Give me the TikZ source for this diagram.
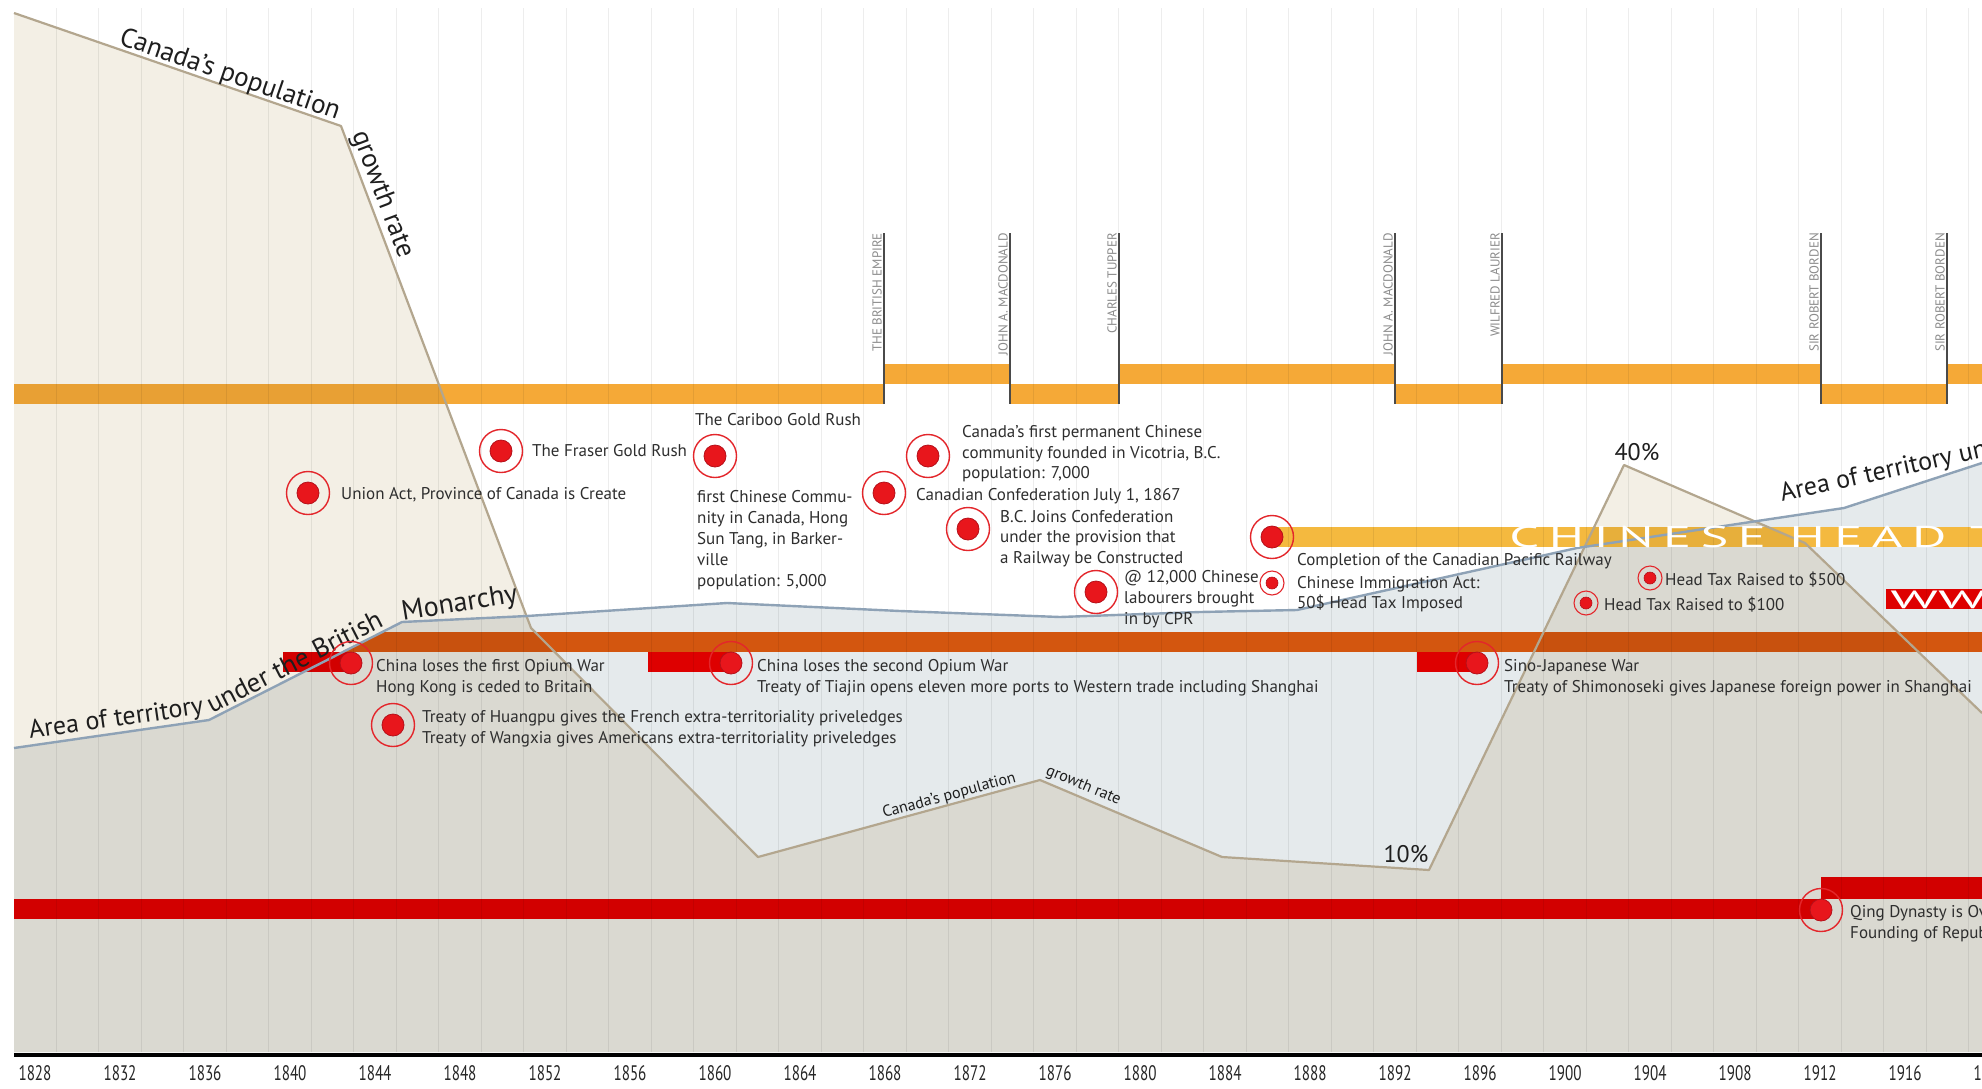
\documentclass[tikz,border=0pt]{standalone}
\usepackage{fontspec}
\setmainfont{PT Sans}
\definecolor{beige}{HTML}{F3EFE5}
\definecolor{terrblue}{HTML}{E5EAEC}
\definecolor{bggray}{HTML}{DAD9D1}
\definecolor{popline}{HTML}{B3A68E}
\definecolor{terrline}{HTML}{8EA2B6}
\definecolor{pmorange}{HTML}{F5A937}
\definecolor{taxgold}{HTML}{F4B93F}
\definecolor{brorange}{HTML}{D3560F}
\definecolor{barred}{HTML}{DE0000}
\definecolor{dotred}{HTML}{E8161C}
\definecolor{dotedge}{HTML}{B5101A}
\definecolor{ringred}{HTML}{E3262B}
\definecolor{evgray}{HTML}{2E2E2E}
\definecolor{pmgray}{HTML}{8C8C8C}
\definecolor{pmline}{HTML}{4A4A4A}
\definecolor{labblack}{HTML}{1E1E1E}
\newcommand\Tline{(14,748) -- (209,720) -- (402,622) -- (527,616) -- (727,603) -- (900,611) -- (1060,617) -- (1200,612) -- (1297,610) -- (1577,548) -- (1844,508) -- (1982,463)}
\newcommand\Pline{(14,13) -- (341,126) -- (531,628) -- (758,857) -- (1040,780) -- (1222,857) -- (1429,870) -- (1624,465) -- (1805,543) -- (1982,713)}
\newcommand\barshapes{%
  \fill[pmc] (14,384) rectangle (884,404);
  \fill[pmc] (884,364) rectangle (1010,384);
  \fill[pmc] (1010,384) rectangle (1119,404);
  \fill[pmc] (1119,364) rectangle (1395,384);
  \fill[pmc] (1395,384) rectangle (1502,404);
  \fill[pmc] (1502,364) rectangle (1821,384);
  \fill[pmc] (1821,384) rectangle (1947,404);
  \fill[pmc] (1947,364) rectangle (1982,384);
  \fill[htc] (1272,527) rectangle (1982,547);
  \fill[rdc] (1886,589) rectangle (1982,609);
  \begin{scope}
    \clip \Tline -- (1982,1052) -- (14,1052) -- cycle;
    \fill[obc] (300,632) rectangle (1982,652);
  \end{scope}
  \fill[rdc] (283,652) rectangle (352,672);
  \fill[rdc] (648,652) rectangle (731,672);
  \fill[rdc] (1417,652) rectangle (1477,672);
  \fill[rdc] (14,899) rectangle (1821,919);
  \fill[rdc] (1821,877) rectangle (1982,899);
}
\newcommand\bdot[3]{\node[ring] (#1r) at (#2,#3) {}; \node[dotc] (#1) at (#2,#3) {};}
\newcommand\sdotm[3]{\node[sring] (#1r) at (#2,#3) {}; \node[sdot] (#1) at (#2,#3) {};}
\begin{document}
\begin{tikzpicture}[x=1pt,y=-1pt,
  pmc/.style={fill=pmorange}, htc/.style={fill=taxgold}, obc/.style={fill=brorange}, rdc/.style={fill=barred},
  evtxt/.style={font=\fontsize{17}{20}\selectfont, text=evgray, inner sep=0pt, anchor=base west},
  pmtxt/.style={font=\fontsize{13}{15}\selectfont, text=pmgray, inner sep=0pt, rotate=90, anchor=south east},
  ring/.style={circle, draw=ringred, line width=1.4pt, minimum size=43pt, inner sep=0pt},
  sring/.style={circle, draw=ringred, line width=1.1pt, minimum size=24pt, inner sep=0pt},
  dotc/.style={circle, fill=dotred, draw=dotedge, line width=0.8pt, minimum size=22pt, inner sep=0pt},
  sdot/.style={circle, fill=dotred, draw=dotedge, line width=0.6pt, minimum size=12pt, inner sep=0pt},
  yr/.style={font=\fontsize{21}{24}\selectfont, xscale=0.72, inner sep=0pt, text=black!85},
  biglab/.style={font=\fontsize{26}{30}\selectfont, text=labblack, inner sep=0pt, anchor=base west},
  midlab/.style={font=\fontsize{16}{19}\selectfont, text=labblack, inner sep=0pt, anchor=base west},
  pct/.style={font=\fontsize{24}{28}\selectfont, text=labblack, inner sep=0pt, anchor=base},
  gridc/.style={draw=black, draw opacity=0.07, line width=1pt},
  pmv/.style={draw=pmline, line width=1.2pt},
]
\useasboundingbox (0,0) rectangle (1982,1088);
\clip (0,0) rectangle (1982,1088);
\fill[white] (0,0) rectangle (1982,1088);
% areas
\fill[terrblue] \Tline -- (1982,1052) -- (14,1052) -- cycle;
\fill[beige] \Pline -- (1982,1052) -- (14,1052) -- cycle;
\begin{scope}
  \clip \Tline -- (1982,1052) -- (14,1052) -- cycle;
  \fill[bggray] \Pline -- (1982,1052) -- (14,1052) -- cycle;
\end{scope}
% bars
\barshapes
\begin{scope}
  \clip \Pline -- (1982,1052) -- (14,1052) -- cycle;
  \tikzset{pmc/.style={fill=black,fill opacity=0.05}, htc/.style={fill=black,fill opacity=0.05},
           obc/.style={fill=black,fill opacity=0.05}, rdc/.style={fill=black,fill opacity=0.05}}
  \barshapes
\end{scope}
% grid
\foreach \k in {0,...,46} {\pgfmathsetmacro\xx{56.25+\k*42.5} \draw[gridc] (\xx,8) -- (\xx,1052);}
% lines
\draw[popline, line width=2.2pt, line join=round] \Pline;
\draw[terrline, line width=2.4pt, line join=round] \Tline;
% prime minister markers
\draw[pmv] (884,233) -- (884,404);
\draw[pmv] (1010,233) -- (1010,404);
\draw[pmv] (1119,233) -- (1119,404);
\draw[pmv] (1395,233) -- (1395,404);
\draw[pmv] (1502,233) -- (1502,404);
\draw[pmv] (1821,233) -- (1821,404);
\draw[pmv] (1947,233) -- (1947,404);
\node[pmtxt] (pm1) at (882,233) {THE BRITISH EMPIRE};
\node[pmtxt] (pm2) at (1008,233) {JOHN A. MACDONALD};
\node[pmtxt] (pm3) at (1117,233) {CHARLES TUPPER};
\node[pmtxt] (pm4) at (1393,233) {JOHN A. MACDONALD};
\node[pmtxt] (pm5) at (1500,233) {WILFRED LAURIER};
\node[pmtxt] (pm6) at (1819,233) {SIR ROBERT BORDEN};
\node[pmtxt] (pm7) at (1945,233) {SIR ROBERT BORDEN};
% bar texts
\node[anchor=base west, inner sep=0pt, text=white, xscale=1.75, font=\fontsize{30}{32}\selectfont\addfontfeature{LetterSpace=18}] (htax) at (1509,547) {CHINESE HEAD TAX};
\node[anchor=base west, inner sep=0pt, text=white, xscale=2.3, font=\fontsize{25}{28}\selectfont] (wwi) at (1890,608) {WWI};
% big labels
\node[biglab, font=\fontsize{27}{30}\selectfont, rotate=-19.1] (popA) at (118,44) {Canada’s population};
\node[biglab, font=\fontsize{27}{30}\selectfont, rotate=-69.3] (popB) at (352,134) {growth rate};
\node[midlab, rotate=15.3] (popC) at (884,818) {Canada’s population};
\node[midlab, rotate=-22.9] (popD) at (1045,774) {growth rate};
\node[biglab, rotate=8.2] (terA) at (30,739) {Area of territory};
\node[biglab, font=\fontsize{27}{30}\selectfont, rotate=27] (terB) at (212,714) {under the British};
\node[biglab, font=\fontsize{28}{30}\selectfont, rotate=9.3] (terC) at (403,621) {Monarchy};
\node[biglab, rotate=12.5] (terD) at (1782,502) {Area of territory under the British Monarchy};
\node[pct] (p40) at (1637,460) {40\%};
\node[pct] (p10) at (1406,862) {10\%};
% events
\bdot{union}{308}{493}
\node[evtxt] (tunion) at (341,499) {Union Act, Province of Canada is Create};
\bdot{fraser}{501}{451}
\node[evtxt] (tfraser) at (532,456) {The Fraser Gold Rush};
\bdot{cariboo}{715}{456}
\node[evtxt] (tcar) at (695,425) {The Cariboo Gold Rush};
\node[evtxt] (tcar1) at (697,502) {first Chinese Commu-};
\node[evtxt] (tcar2) at (697,523) {nity in Canada, Hong};
\node[evtxt] (tcar3) at (697,544) {Sun Tang, in Barker-};
\node[evtxt] (tcar4) at (697,565) {ville};
\node[evtxt] (tcar5) at (697,586) {population: 5,000};
\bdot{vic}{928}{456}
\node[evtxt] (tvic1) at (962,437) {Canada’s first permanent Chinese};
\node[evtxt] (tvic2) at (962,458) {community founded in Vicotria, B.C.};
\node[evtxt] (tvic3) at (962,478) {population: 7,000};
\bdot{conf}{884}{493}
\node[evtxt] (tconf) at (916,500) {Canadian Confederation July 1, 1867};
\bdot{bc}{968}{529}
\node[evtxt] (tbc1) at (1000,522) {B.C. Joins Confederation};
\node[evtxt] (tbc2) at (1000,542) {under the provision that};
\node[evtxt] (tbc3) at (1000,563) {a Railway be Constructed};
\bdot{cpr}{1096}{592}
\node[evtxt] (tcpr1) at (1124,582) {@ 12,000 Chinese};
\node[evtxt] (tcpr2) at (1124,603) {labourers brought};
\node[evtxt] (tcpr3) at (1124,624) {in by CPR};
\bdot{comp}{1272}{537}
\node[evtxt] (tcomp) at (1297,565) {Completion of the Canadian Pacific Railway};
\sdotm{imm}{1272}{583}
\node[evtxt] (timm1) at (1297,588) {Chinese Immigration Act:};
\node[evtxt] (timm2) at (1297,608) {50\$ Head Tax Imposed};
\sdotm{ht500}{1650}{578}
\node[evtxt] (tht500) at (1665,585) {Head Tax Raised to \$500};
\sdotm{ht100}{1586}{603}
\node[evtxt] (tht100) at (1604,610) {Head Tax Raised to \$100};
\bdot{op1}{351}{663}
\node[evtxt] (top1a) at (376,671) {China loses the first Opium War};
\node[evtxt] (top1b) at (376,692) {Hong Kong is ceded to Britain};
\bdot{hp}{393}{725}
\node[evtxt] (thp1) at (422,722) {Treaty of Huangpu gives the French extra-territoriality priveledges};
\node[evtxt] (thp2) at (422,743) {Treaty of Wangxia gives Americans extra-territoriality priveledges};
\bdot{op2}{731}{663}
\node[evtxt] (top2a) at (757,671) {China loses the second Opium War};
\node[evtxt] (top2b) at (757,692) {Treaty of Tiajin opens eleven more ports to Western trade including Shanghai};
\bdot{sino}{1477}{663}
\node[evtxt] (tsino1) at (1504,671) {Sino-Japanese War};
\node[evtxt] (tsino2) at (1504,692) {Treaty of Shimonoseki gives Japanese foreign power in Shanghai};
\bdot{qing}{1821}{910}
\node[evtxt] (tqing1) at (1850,917) {Qing Dynasty is Overthrown};
\node[evtxt] (tqing2) at (1850,938) {Founding of Republic of China};
% axis
\draw[black, line width=4pt] (14,1055) -- (1982,1055);
\foreach \yy in {1828,1832,...,1920} {\pgfmathsetmacro\xx{35+(\yy-1828)*21.25} \node[yr] (y\yy) at (\xx,1073) {\yy};}
\end{tikzpicture}
\end{document}
